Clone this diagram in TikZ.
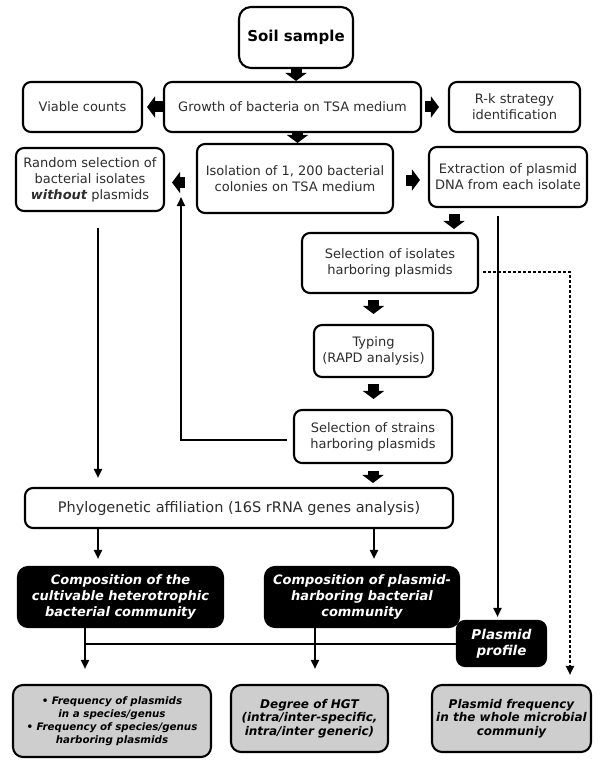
\documentclass[tikz,border=0pt]{standalone}
\usepackage{fontspec}
\setmainfont{DejaVu Sans}
\usetikzlibrary{arrows.meta,calc}
\definecolor{boxgray}{RGB}{206,206,206}
\definecolor{txt}{RGB}{45,45,45}
\begin{document}
\begin{tikzpicture}[x=1pt,y=-1pt,
  box/.style={draw, line width=2.1pt, rounded corners=8pt, align=center, inner sep=0pt,
     font=\fontsize{13}{16}\selectfont, text=txt, fill=white},
  blackbox/.style={box, fill=black, text=white, rounded corners=10pt,
     font=\fontsize{13}{16}\selectfont\bfseries\itshape},
  graybox/.style={box, fill=boxgray, text=black, rounded corners=10pt,
     font=\fontsize{12}{13.5}\selectfont\bfseries\itshape},
  fat/.style={line width=11pt, -{Triangle[length=8pt,width=21pt]}},
  thinarrow/.style={line width=2pt, -{Triangle[length=9pt,width=8pt]}},
  dotarrow/.style={line width=2pt, dash pattern=on 2.5pt off 2.5pt, -{Triangle[length=9pt,width=8pt]}}
]
\useasboundingbox (0,0) rectangle (600,765);

\node[box, rounded corners=12pt, minimum width=114pt, minimum height=61pt,
      font=\fontsize{15}{18}\selectfont\bfseries, text=black] (soil) at (296,37.5) {Soil sample};
\node[box, minimum width=257pt, minimum height=50pt] (growth) at (292.5,107) {Growth of bacteria on TSA medium};
\node[box, minimum width=119pt, minimum height=50pt] (viable) at (82.5,107) {Viable counts};
\node[box, minimum width=131pt, minimum height=50pt] (rk) at (514.5,107) {R-k strategy\\identification};
\node[box, minimum width=148pt, minimum height=63pt] (random) at (90,179.5) {Random selection of\\bacterial isolates\\{\bfseries\itshape without} plasmids};
\node[box, minimum width=196pt, minimum height=69pt] (isol) at (295,178.5) {Isolation of 1, 200 bacterial\\colonies on TSA medium};
\node[box, minimum width=158pt, minimum height=60pt] (extr) at (508,177) {Extraction of plasmid\\DNA from each isolate};
\node[box, minimum width=176pt, minimum height=60pt] (selis) at (390,263) {Selection of isolates\\harboring plasmids};
\node[box, minimum width=119pt, minimum height=52pt] (typing) at (373.5,351) {Typing\\(RAPD analysis)};
\node[box, minimum width=158pt, minimum height=53pt] (selst) at (373,436.5) {Selection of strains\\harboring plasmids};
\node[box, minimum width=428pt, minimum height=40pt, font=\fontsize{14.5}{17}\selectfont] (phylo) at (239,508) {Phylogenetic affiliation (16S rRNA genes analysis)};
\node[blackbox, minimum width=205pt, minimum height=60pt] (comp1) at (120.5,597) {Composition of the\\cultivable heterotrophic\\bacterial community};
\node[blackbox, minimum width=194pt, minimum height=60pt] (comp2) at (362,597) {Composition of plasmid-\\harboring bacterial\\community};
\node[blackbox, rounded corners=8pt, minimum width=89pt, minimum height=45pt, font=\fontsize{13.5}{16}\selectfont\bfseries\itshape] (pprof) at (501.5,643.5) {Plasmid\\profile};
\node[graybox, minimum width=198pt, minimum height=72pt, font=\fontsize{10.3}{13}\selectfont\bfseries\itshape] (botA) at (112,721) {• Frequency of plasmids\\in a species/genus\\• Frequency of species/genus\\harboring plasmids};
\node[graybox, minimum width=157pt, minimum height=67pt] (botB) at (309.5,718.5) {Degree of HGT\\(intra/inter-specific,\\intra/inter generic)};
\node[graybox, minimum width=159pt, minimum height=67pt] (botC) at (511.5,718.5) {Plasmid frequency\\in the whole microbial\\communiy};

\coordinate (fb) at (181,197);

% thick block arrows
\draw[fat] (soil.south) -- (soil.south |- growth.north);
\draw[fat] ([xshift=5pt]growth.south) -- ([xshift=5pt]growth.south |- isol.north);
\draw[fat, shorten >=4pt] (growth.west) -- (growth.west -| viable.east);
\draw[fat, shorten <=3pt, shorten >=9pt] (growth.east) -- (growth.east -| rk.west);
\draw[fat, shorten <=11pt, shorten >=7pt] ([yshift=-4pt]isol.west) -- ([yshift=-4pt]isol.west -| random.east);
\draw[fat, shorten <=12pt, shorten >=8pt] ([yshift=-1.5pt]isol.east) -- ([yshift=-1.5pt]isol.east -| extr.west);
\draw[fat, shorten <=6pt, shorten >=3pt] ([xshift=-54pt]extr.south) -- ([xshift=-54pt]extr.south |- selis.north);
\draw[fat, shorten <=6pt, shorten >=10pt] (typing.north |- selis.south) -- (typing.north);
\draw[fat, shorten <=6pt, shorten >=10pt] (typing.south) -- (typing.south |- selst.north);
\draw[fat, shorten <=7pt, shorten >=4pt] (selst.south) -- (selst.south |- phylo.north);

% thin arrows
\draw[thinarrow, shorten <=16pt, shorten >=9pt] ([xshift=8pt]random.south) -- ([xshift=8pt]random.south |- phylo.north);
\draw[thinarrow, shorten >=7pt] ([xshift=-22.5pt]comp1.north |- phylo.south) -- ([xshift=-22.5pt]comp1.north);
\draw[thinarrow, shorten >=7pt] ([xshift=12pt]comp2.north |- phylo.south) -- ([xshift=12pt]comp2.north);
\draw[thinarrow, shorten >=15pt] ([xshift=-35.5pt]comp1.south) -- ([xshift=-35.5pt]comp1.south |- botA.north);
\draw[thinarrow, shorten >=15pt] ([xshift=-47pt]comp2.south) -- ([xshift=-47pt]comp2.south |- botB.north);
\draw[line width=2pt] ([xshift=-35.5pt]comp1.south |- pprof.west) -- (pprof.west);
\draw[thinarrow, shorten <=8pt, shorten >=3pt] ([xshift=-10.5pt]extr.south) -- ([xshift=-10.5pt]extr.south |- pprof.north);
\draw[dotarrow, shorten <=4pt, shorten >=9pt] ([yshift=-9pt]selis.east) -| ([xshift=58.5pt]botC.north);
\draw[thinarrow, shorten <=6pt] ([yshift=-3.5pt]selst.west) -| (fb);
\end{tikzpicture}
\end{document}
